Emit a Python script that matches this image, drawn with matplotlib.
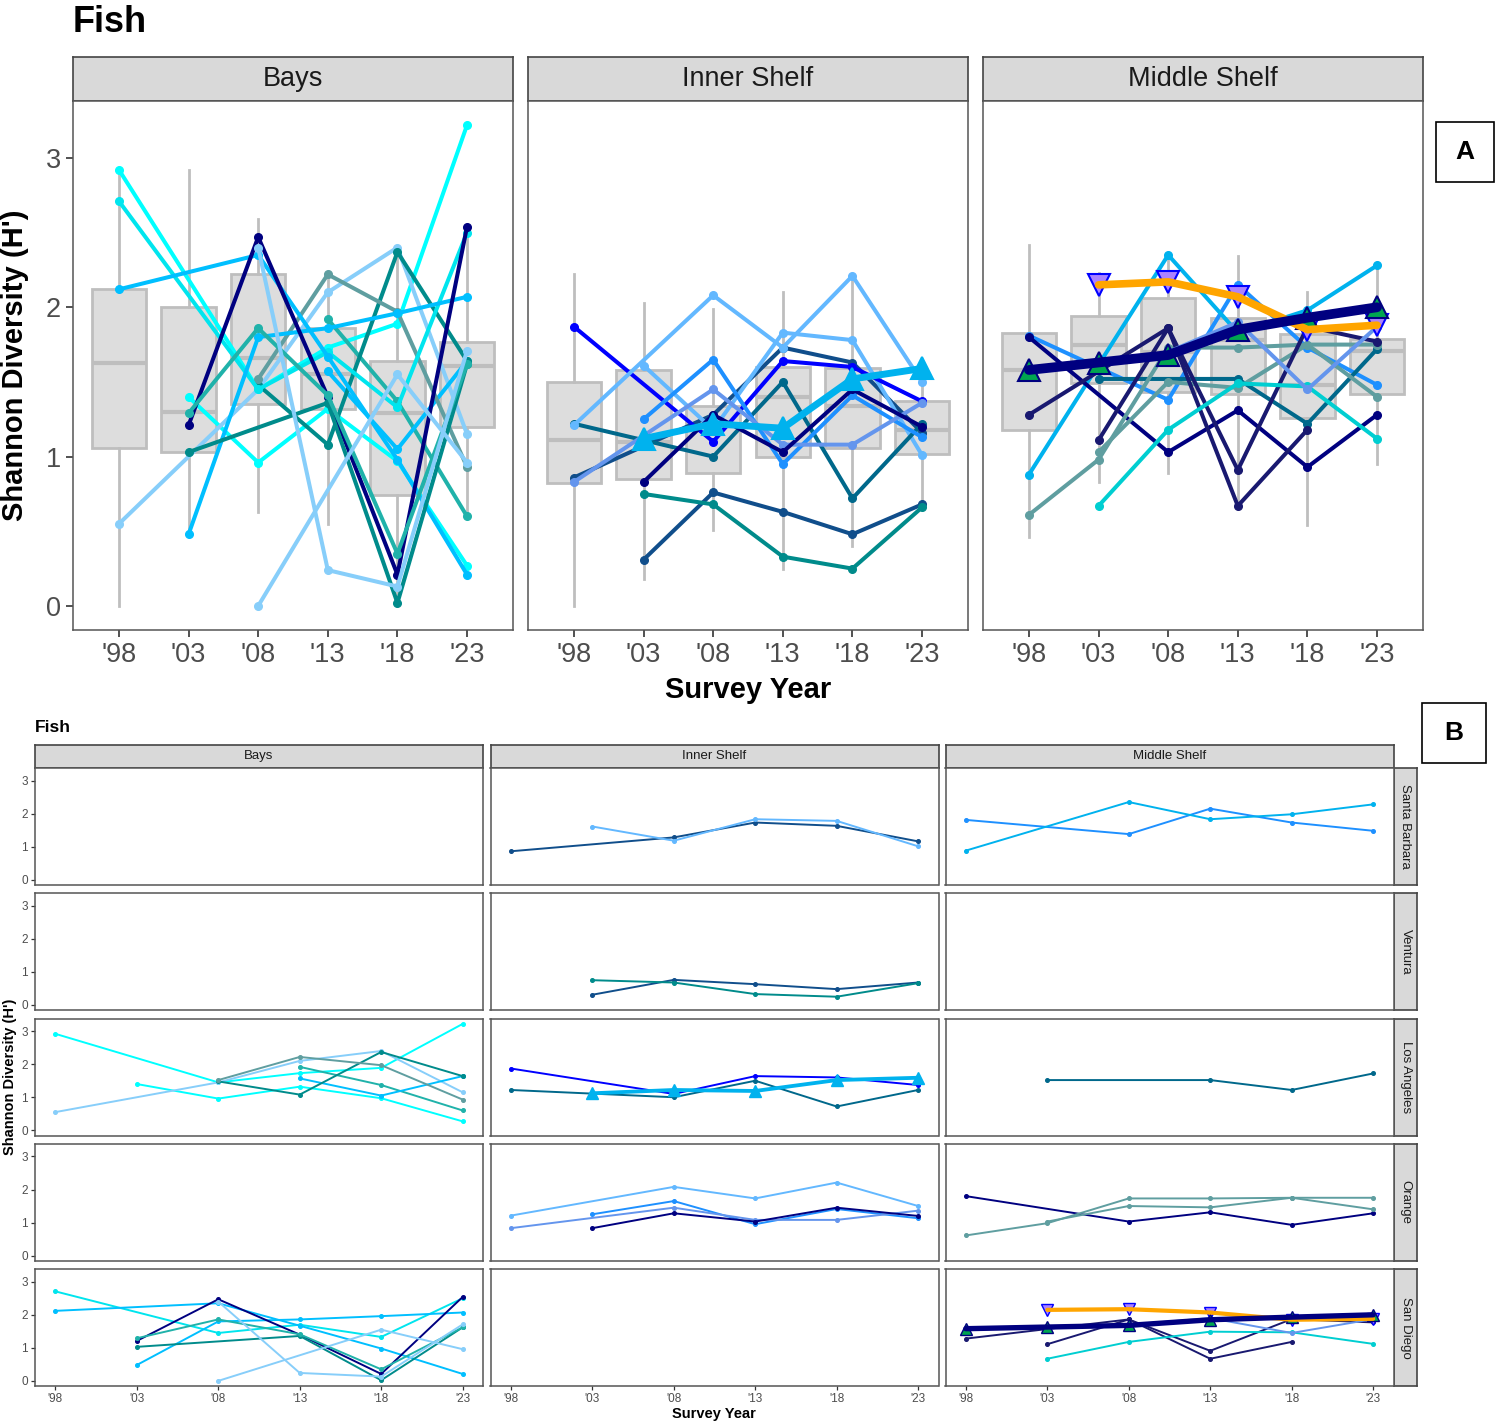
import numpy as np
import matplotlib.pyplot as plt
from matplotlib.patches import Rectangle

plt.rcParams['font.family'] = ['Liberation Sans', 'DejaVu Sans']

W, H = 1497, 1423
nan = np.nan

years = [1998, 2003, 2008, 2013, 2018, 2023]
year_labels = ["'98", "'03", "'08", "'13", "'18", "'23"]
regions = ['Bays', 'Inner Shelf', 'Middle Shelf']
counties = ['Santa Barbara', 'Ventura', 'Los Angeles', 'Orange', 'San Diego']

# ---- station values (Shannon H') per survey year ----
bays_county = ['Los Angeles'] * 7 + ['San Diego'] * 8
bays_h = [
    [2.92, nan, 1.45, 1.73, 1.89, 3.22],
    [nan, 1.40, 0.96, 1.32, 0.97, 0.27],
    [0.55, nan, 1.45, 2.10, 2.40, 1.15],
    [nan, nan, nan, 1.92, 1.37, 0.60],
    [nan, nan, nan, 1.57, 1.05, 1.64],
    [nan, nan, 1.48, 1.08, 2.37, 1.64],
    [nan, nan, 1.52, 2.22, 1.97, 0.93],
    [2.71, nan, 1.45, 1.70, 1.33, 2.50],
    [2.12, nan, 2.35, 1.67, 0.98, 0.21],
    [nan, 0.48, 1.80, 1.86, 1.96, 2.07],
    [nan, 1.21, 2.47, 1.40, 0.21, 2.54],
    [nan, 1.03, nan, 1.36, 0.02, 1.62],
    [nan, 1.29, 1.86, 1.41, 0.35, 1.62],
    [nan, nan, 2.40, 0.24, 0.13, 1.71],
    [nan, nan, 0.00, nan, 1.55, 0.96],
]

inner_county = ['Santa Barbara'] * 2 + ['Ventura'] * 2 + ['Los Angeles'] * 3 + ['Orange'] * 4
inner_h = [
    [0.86, nan, 1.28, 1.73, 1.63, 1.16],
    [nan, 1.61, 1.18, 1.83, 1.78, 1.01],
    [nan, 0.31, 0.76, 0.63, 0.48, 0.68],
    [nan, 0.75, 0.68, 0.33, 0.25, 0.66],
    [1.87, nan, 1.10, 1.64, 1.60, 1.37],
    [1.22, nan, 1.00, 1.50, 0.72, 1.22],
    [nan, 1.12, 1.22, 1.19, 1.52, 1.59],
    [1.21, nan, 2.08, 1.73, 2.21, 1.50],
    [nan, 1.25, 1.65, 0.95, 1.41, 1.13],
    [0.83, nan, 1.45, 1.08, 1.08, 1.36],
    [nan, 0.83, 1.28, 1.03, 1.45, 1.20],
]

middle_county = (['Santa Barbara'] * 2 + ['Los Angeles'] + ['Orange'] * 3
                 + ['San Diego'] * 6)
middle_h = [
    [1.81, nan, 1.38, 2.15, 1.73, 1.48],
    [0.88, nan, 2.35, 1.83, 1.98, 2.28],
    [nan, 1.52, nan, 1.52, 1.22, 1.72],
    [1.80, nan, 1.03, 1.31, 0.93, 1.28],
    [0.61, 0.98, 1.73, 1.73, 1.75, 1.75],
    [nan, 1.03, 1.50, 1.46, 1.75, 1.40],
    [1.28, nan, 1.86, 0.91, 1.87, 1.77],
    [nan, 1.11, 1.86, 0.67, 1.18, nan],
    [nan, 0.67, 1.18, 1.49, 1.47, 1.12],
    [nan, nan, 1.70, 1.90, 1.45, 1.87],
    [nan, 2.15, 2.17, 2.07, 1.85, 1.88],
    [1.58, 1.63, 1.68, 1.85, 1.93, 2.00],
]

# box summaries (all stations) per region and year
box_lo = {'Bays': [0.00, 0.50, 0.63, 0.55, 0.02, 0.60],
          'Inner Shelf': [0.00, 0.18, 0.51, 0.25, 0.40, 0.66],
          'Middle Shelf': [0.46, 0.83, 0.89, 0.67, 0.54, 0.95]}
box_q1 = {'Bays': [1.06, 1.03, 1.35, 1.32, 0.74, 1.20],
          'Inner Shelf': [0.82, 0.85, 0.89, 1.00, 1.06, 1.02],
          'Middle Shelf': [1.18, 1.49, 1.43, 1.42, 1.26, 1.42]}
box_med = {'Bays': [1.63, 1.30, 1.66, 1.55, 1.29, 1.61],
           'Inner Shelf': [1.11, 1.10, 1.21, 1.40, 1.34, 1.18],
           'Middle Shelf': [1.58, 1.75, 1.70, 1.78, 1.48, 1.71]}
box_q3 = {'Bays': [2.12, 2.00, 2.22, 1.86, 1.64, 1.77],
          'Inner Shelf': [1.50, 1.58, 1.34, 1.60, 1.59, 1.37],
          'Middle Shelf': [1.83, 1.94, 2.06, 1.93, 1.82, 1.79]}
box_hi = {'Bays': [2.90, 2.92, 2.59, 2.22, 2.38, 2.54],
          'Inner Shelf': [2.22, 2.03, 1.99, 2.10, 2.19, 1.59],
          'Middle Shelf': [2.42, 2.23, 2.32, 2.34, 2.10, 2.28]}

# ---- styles ----
bays_colours = ['#00FFFF', '#00FFFF', '#87CEFA', '#20B2AA', '#00BFFF', '#008B8B',
                '#5F9EA0', '#00E5EE', '#00BFFF', '#00BFFF', '#000080', '#008B8B',
                '#20B2AA', '#87CEFA', '#87CEFA']
inner_colours = ['#104E8B', '#63B8FF', '#104E8B', '#008B8B', '#0000FF', '#00688B',
                 '#00B2EE', '#63B8FF', '#1E90FF', '#6495ED', '#000080']
middle_colours = ['#1E90FF', '#00B2EE', '#00688B', '#000080', '#5F9EA0', '#5F9EA0',
                  '#191970', '#191970', '#00CED1', '#6495ED', '#FFA500', '#000080']
# highlighted stations: thick line + triangle markers (z: marker layer)
highlight = {
    ('Inner Shelf', 6): dict(w=5.0, marker='^', mfc='#00B2EE', mec='#00B2EE', z=6),
    ('Middle Shelf', 10): dict(w=5.5, marker='v', mfc='#AB82FF', mec='#0000FF', z=4),
    ('Middle Shelf', 11): dict(w=7.0, marker='^', mfc='#00A550', mec='#000080', z=4),
}

data = {'Bays': (bays_county, bays_h, bays_colours),
        'Inner Shelf': (inner_county, inner_h, inner_colours),
        'Middle Shelf': (middle_county, middle_h, middle_colours)}

fig = plt.figure(figsize=(W / 100, H / 100), dpi=100)


def add_px(x0, y0, x1, y1):
    return fig.add_axes([x0 / W, 1 - y1 / H, (x1 - x0) / W, (y1 - y0) / H])


def strip(x0, y0, x1, y1, text, size, rot=0):
    s = add_px(x0, y0, x1, y1)
    s.set_facecolor('#D9D9D9')
    s.set_xticks([])
    s.set_yticks([])
    for sp in s.spines.values():
        sp.set_color('#444444')
        sp.set_linewidth(1.2)
    s.text(0.5, 0.5, text, ha='center', va='center', fontsize=size,
           color='#1A1A1A', rotation=rot, transform=s.transAxes)


def frame(ax):
    for sp in ax.spines.values():
        sp.set_color('#555555')
        sp.set_linewidth(1.1)
    ax.tick_params(colors='#333333', labelcolor='#4D4D4D')


def draw_station(ax, vals, colour, hl, big):
    v = np.array(vals, dtype=float)
    m = ~np.isnan(v)
    xs = np.array(years)[m]
    ys = v[m]
    if hl is not None:
        lw = hl['w'] if big else hl['w'] * 0.55
        ms = 16 if big else 8
        ax.plot(xs, ys, color=colour, lw=lw, solid_capstyle='round', zorder=5)
        ax.plot(xs, ys, ls='none', marker=hl['marker'], ms=ms, mfc=hl['mfc'],
                mec=hl['mec'], mew=1.5 if big else 1.0, zorder=hl['z'])
    else:
        ax.plot(xs, ys, color=colour, lw=2.9 if big else 1.4, marker='o',
                ms=5.5 if big else 2.6, solid_capstyle='round', zorder=3)


# ================= Panel A =================
fig.text(73 / W, 1 - 22 / H, 'Fish', fontsize=26, fontweight='bold', va='center')
cols_a = [(73, 513), (528, 968), (983, 1423)]
for i, reg in enumerate(regions):
    x0, x1 = cols_a[i]
    strip(x0, 57, x1, 101, reg, 19.5)
    ax = add_px(x0, 101, x1, 630)
    stats = [dict(whislo=box_lo[reg][j], q1=box_q1[reg][j], med=box_med[reg][j],
                  q3=box_q3[reg][j], whishi=box_hi[reg][j]) for j in range(6)]
    ax.bxp(stats, positions=years, widths=3.9, patch_artist=True,
           showfliers=False, showcaps=False,
           boxprops=dict(facecolor='#DDDDDD', edgecolor='#BEBEBE', lw=2),
           medianprops=dict(color='#BEBEBE', lw=3),
           whiskerprops=dict(color='#BEBEBE', lw=2))
    cty, vals, cols = data[reg]
    for k in range(len(vals)):
        draw_station(ax, vals[k], cols[k], highlight.get((reg, k)), True)
    ax.set_xlim(1998 - 3.3, 2023 + 3.3)
    ax.set_ylim(-0.161, 3.381)
    ax.set_xticks(years)
    ax.set_xticklabels(year_labels, fontsize=19.5)
    ax.set_yticks([0, 1, 2, 3])
    if i == 0:
        ax.set_yticklabels(['0', '1', '2', '3'], fontsize=19.5)
        ax.set_ylabel("Shannon Diversity (H')", fontsize=21, fontweight='bold',
                      labelpad=12)
    else:
        ax.tick_params(axis='y', left=False, labelleft=False)
    frame(ax)
    ax.tick_params(length=5, width=1.2)
    if i == 1:
        ax.set_xlabel('Survey Year', fontsize=21, fontweight='bold', labelpad=6)

fig.add_artist(Rectangle((1436 / W, 1 - 182 / H), 58 / W, 60 / H,
                         transform=fig.transFigure, fill=False, ec='black', lw=1.2))
fig.text(1465 / W, 1 - 152 / H, 'A', fontsize=19, fontweight='bold',
         ha='center', va='center')

# ================= Panel B =================
fig.text(35 / W, 1 - 728 / H, 'Fish', fontsize=12.5, fontweight='bold', va='center')
col_x = [35, 490.5, 945.5]
pw, ph, pitch = 448, 117, 125.3
for c, reg in enumerate(regions):
    strip(col_x[c], 745, col_x[c] + pw, 768, reg, 9.5)
for r, county in enumerate(counties):
    y0 = 768 + pitch * r
    strip(1394, y0, 1417, y0 + ph, county, 9.5, rot=-90)
    for c, reg in enumerate(regions):
        ax = add_px(col_x[c], y0, col_x[c] + pw, y0 + ph)
        cty, vals, cols = data[reg]
        for k in range(len(vals)):
            if cty[k] == county:
                draw_station(ax, vals[k], cols[k], highlight.get((reg, k)), False)
        ax.set_xlim(1998 - 1.25, 2023 + 1.25)
        ax.set_ylim(-0.161, 3.381)
        ax.set_xticks(years)
        ax.set_yticks([0, 1, 2, 3])
        frame(ax)
        ax.tick_params(length=3, width=0.9, labelsize=8.5, pad=2)
        if r == 4:
            ax.set_xticklabels(year_labels)
        else:
            ax.tick_params(axis='x', bottom=False, labelbottom=False)
        if c == 0:
            ax.set_yticklabels(['0', '1', '2', '3'])
        else:
            ax.tick_params(axis='y', left=False, labelleft=False)

fig.text(714 / W, 1 - 1414 / H, 'Survey Year', fontsize=10.5, fontweight='bold',
         ha='center', va='center')
fig.text(10 / W, 1 - 1077 / H, "Shannon Diversity (H')", fontsize=10.5,
         fontweight='bold', ha='center', va='center', rotation=90)
fig.add_artist(Rectangle((1422 / W, 1 - 763 / H), 64 / W, 60 / H,
                         transform=fig.transFigure, fill=False, ec='black', lw=1.2))
fig.text(1454 / W, 1 - 733 / H, 'B', fontsize=19, fontweight='bold',
         ha='center', va='center')

fig.savefig('out.png', dpi=100)
